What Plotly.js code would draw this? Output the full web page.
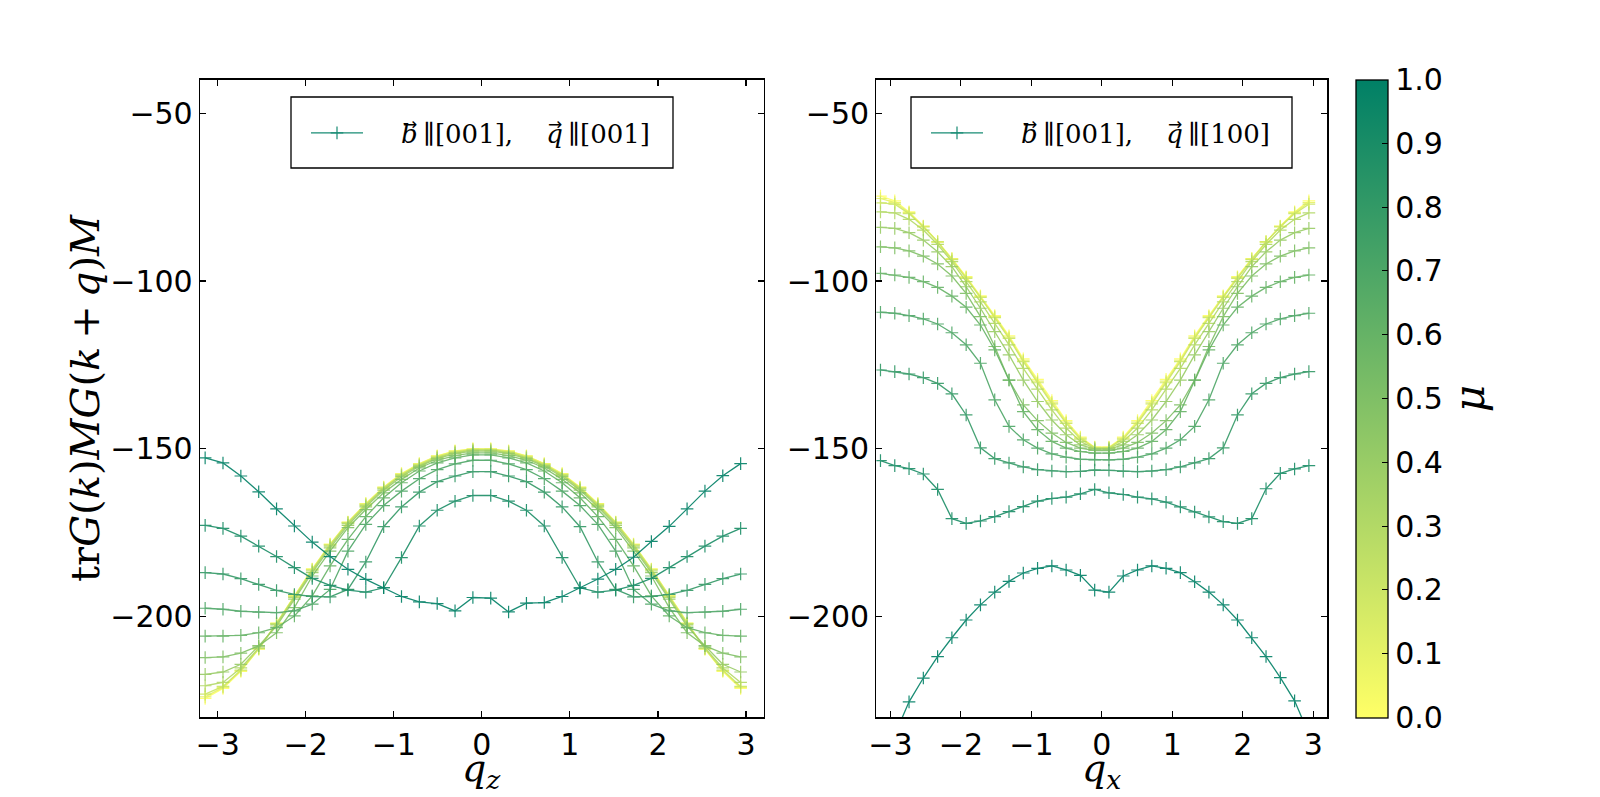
<!DOCTYPE html>
<html>
<head>
<meta charset="utf-8">
<script src="https://cdn.plot.ly/plotly-3.0.1.min.js"></script>
<style>html,body{margin:0;padding:0;background:#fff;overflow:hidden;}#chart{width:1600px;height:797px;}</style>
</head>
<body>
<div id="chart"></div>
<script>
// q grid (31 points from -pi with step 2pi/31)
const qValues = [-3.1416,-2.9389,-2.7362,-2.5335,-2.3308,-2.1281,-1.9255,-1.7228,-1.5201,-1.3174,-1.1147,-0.9120,-0.7094,-0.5067,-0.3040,-0.1013,0.1013,0.3040,0.5067,0.7094,0.9120,1.1147,1.3174,1.5201,1.7228,1.9255,2.1281,2.3308,2.5335,2.7362,2.9389];
const muValues = [0.0,0.1,0.2,0.3,0.4,0.5,0.6,0.7,0.8,0.9,1.0];

// Left panel: b || [001], q || [001]
const left_mu00 = [-224.4,-221.4,-216.3,-209.7,-201.9,-193.7,-185.8,-178.4,-171.8,-166.3,-161.4,-157.4,-154.4,-152.1,-150.6,-150.0,-150.0,-150.6,-152.1,-154.4,-157.4,-161.4,-166.3,-171.8,-178.4,-185.8,-193.7,-201.9,-209.7,-216.3,-221.4];
const left_mu01 = [-223.9,-221.1,-216.1,-209.6,-202.0,-193.8,-185.9,-178.5,-171.9,-166.4,-161.5,-157.5,-154.5,-152.2,-150.7,-150.1,-150.1,-150.7,-152.2,-154.5,-157.5,-161.5,-166.4,-171.9,-178.5,-185.9,-193.8,-202.0,-209.6,-216.1,-221.1];
const left_mu02 = [-223.1,-220.8,-215.9,-209.5,-202.1,-194.0,-186.1,-178.7,-172.0,-166.6,-161.7,-157.7,-154.7,-152.4,-150.9,-150.2,-150.2,-150.9,-152.4,-154.7,-157.7,-161.7,-166.6,-172.0,-178.7,-186.1,-194.0,-202.1,-209.5,-215.9,-220.8];
const left_mu03 = [-220.6,-219.6,-215.3,-209.3,-202.3,-194.3,-186.4,-179.0,-172.3,-166.9,-161.9,-157.9,-154.9,-152.6,-151.1,-150.4,-150.4,-151.1,-152.6,-154.9,-157.9,-161.9,-166.9,-172.3,-179.0,-186.4,-194.3,-202.3,-209.3,-215.3,-219.6];
const left_mu04 = [-217.2,-216.5,-214.2,-208.7,-202.8,-194.8,-186.9,-179.5,-172.8,-167.3,-162.3,-158.3,-155.2,-152.9,-151.4,-150.7,-150.7,-151.4,-152.9,-155.2,-158.3,-162.3,-167.3,-172.8,-179.5,-186.9,-194.8,-202.8,-208.7,-214.2,-216.5];
const left_mu05 = [-212.2,-212.0,-210.9,-208.7,-204.8,-197.3,-187.9,-180.5,-173.5,-168.1,-163.1,-159.1,-155.7,-153.4,-152.0,-151.2,-151.2,-152.0,-153.4,-155.7,-159.1,-163.1,-168.1,-173.5,-180.5,-187.9,-197.3,-204.8,-208.7,-210.9,-212.0];
const left_mu06 = [-205.8,-205.8,-205.6,-204.8,-203.3,-199.8,-193.8,-184.9,-177.0,-170.2,-164.6,-160.1,-156.6,-154.2,-152.7,-151.8,-151.8,-152.7,-154.2,-156.6,-160.1,-164.6,-170.2,-177.0,-184.9,-193.8,-199.8,-203.3,-204.8,-205.6,-205.8];
const left_mu07 = [-197.5,-197.8,-198.4,-198.7,-198.8,-198.3,-196.3,-191.9,-180.5,-172.5,-166.9,-162.6,-158.9,-156.2,-154.5,-153.4,-153.4,-154.5,-156.2,-158.9,-162.6,-166.9,-172.5,-180.5,-191.9,-196.3,-198.3,-198.8,-198.7,-198.4,-197.8];
const left_mu08 = [-186.9,-187.3,-188.7,-190.4,-192.2,-193.4,-194.0,-194.1,-191.9,-183.7,-173.2,-167.3,-162.9,-159.8,-158.1,-156.8,-156.8,-158.1,-159.8,-162.9,-167.3,-173.2,-183.7,-191.9,-194.1,-194.0,-193.4,-192.2,-190.4,-188.7,-187.3];
const left_mu09 = [-172.8,-173.7,-176.0,-179.0,-182.1,-185.4,-188.6,-190.7,-192.1,-192.7,-191.4,-182.4,-173.0,-168.3,-165.6,-163.9,-163.9,-165.6,-168.3,-173.0,-182.4,-191.4,-192.7,-192.1,-190.7,-188.6,-185.4,-182.1,-179.0,-176.0,-173.7];
const left_mu10 = [-152.7,-154.2,-158.1,-162.8,-167.9,-173.0,-177.8,-182.1,-185.9,-188.9,-191.4,-194.0,-195.6,-196.1,-198.3,-194.3,-194.5,-198.6,-196.0,-195.8,-194.0,-191.5,-188.8,-185.9,-182.3,-177.6,-173.1,-167.9,-162.6,-158.0,-154.4];

// Right panel: b || [001], q || [100]
const right_mu00 = [-74.7,-76.1,-79.4,-83.6,-88.3,-93.3,-98.7,-104.4,-110.3,-116.3,-123.2,-129.3,-135.6,-141.6,-146.5,-149.5,-149.5,-146.5,-141.6,-135.6,-129.3,-123.2,-116.3,-110.3,-104.4,-98.7,-93.3,-88.3,-83.6,-79.4,-76.1];
const right_mu01 = [-75.4,-76.6,-79.6,-83.7,-88.3,-93.4,-98.9,-104.6,-110.6,-116.7,-123.6,-129.8,-136.1,-142.0,-146.8,-149.6,-149.6,-146.8,-142.0,-136.1,-129.8,-123.6,-116.7,-110.6,-104.6,-98.9,-93.4,-88.3,-83.7,-79.6,-76.6];
const right_mu02 = [-76.7,-77.1,-79.9,-83.9,-88.3,-93.6,-99.2,-104.9,-110.9,-117.1,-124.0,-130.3,-136.6,-142.4,-147.1,-149.7,-149.7,-147.1,-142.4,-136.6,-130.3,-124.0,-117.1,-110.9,-104.9,-99.2,-93.6,-88.3,-83.9,-79.9,-77.1];
const right_mu03 = [-79.4,-79.7,-81.6,-84.8,-89.1,-94.2,-100.2,-106.2,-112.6,-119.0,-126.0,-132.2,-138.4,-143.8,-147.8,-149.9,-149.9,-147.8,-143.8,-138.4,-132.2,-126.0,-119.0,-112.6,-106.2,-100.2,-94.2,-89.1,-84.8,-81.6,-79.7];
const right_mu04 = [-84.0,-84.3,-85.6,-87.8,-91.3,-95.7,-101.7,-108.1,-115.1,-122.0,-129.5,-135.9,-141.4,-145.8,-148.8,-150.1,-150.1,-148.8,-145.8,-141.4,-135.9,-129.5,-122.0,-115.1,-108.1,-101.7,-95.7,-91.3,-87.8,-85.6,-84.3];
const right_mu05 = [-89.8,-90.1,-91.0,-92.6,-94.9,-98.5,-103.7,-110.6,-119.5,-129.5,-136.9,-141.6,-145.3,-148.1,-149.8,-150.5,-150.5,-149.8,-148.1,-145.3,-141.6,-136.9,-129.5,-119.5,-110.6,-103.7,-98.5,-94.9,-92.6,-91.0,-90.1];
const right_mu06 = [-97.7,-98.2,-98.9,-100.2,-101.9,-104.5,-107.8,-113.1,-120.5,-129.5,-138.9,-144.3,-147.8,-149.8,-150.8,-151.3,-151.3,-150.8,-149.8,-147.8,-144.3,-138.9,-129.5,-120.5,-113.1,-107.8,-104.5,-101.9,-100.2,-98.9,-98.2];
const right_mu07 = [-109.3,-109.6,-110.3,-111.3,-112.8,-115.4,-119.0,-124.5,-135.4,-143.3,-147.3,-149.8,-151.5,-152.5,-153.1,-153.3,-153.3,-153.1,-152.5,-151.5,-149.8,-147.3,-143.3,-135.4,-124.5,-119.0,-115.4,-112.8,-111.3,-110.3,-109.6];
const right_mu08 = [-126.5,-127.0,-127.7,-128.8,-130.5,-133.6,-139.9,-149.7,-152.9,-154.2,-155.4,-156.2,-156.6,-156.8,-156.7,-156.3,-156.4,-156.7,-156.8,-156.6,-156.2,-155.4,-154.2,-152.9,-149.7,-139.9,-133.6,-130.5,-128.8,-127.7,-127.0];
const right_mu09 = [-153.5,-155.0,-155.9,-157.5,-162.1,-170.8,-172.2,-171.5,-170.2,-168.7,-167.2,-165.6,-164.8,-164.4,-163.4,-162.1,-163.1,-163.6,-164.4,-164.9,-165.9,-167.3,-168.8,-170.3,-171.7,-172.2,-170.8,-161.9,-157.3,-156.0,-155.0];
const right_mu10 = [-245.0,-235.0,-225.4,-218.3,-211.9,-206.3,-201.0,-196.5,-192.7,-189.5,-187.0,-185.6,-184.9,-186.1,-187.7,-192.1,-192.7,-187.9,-186.1,-184.9,-185.6,-186.9,-189.6,-192.7,-196.5,-201.0,-206.3,-211.9,-218.2,-225.1,-235.0];

const leftSeries = [left_mu00,left_mu01,left_mu02,left_mu03,left_mu04,left_mu05,left_mu06,left_mu07,left_mu08,left_mu09,left_mu10];
const rightSeries = [right_mu00,right_mu01,right_mu02,right_mu03,right_mu04,right_mu05,right_mu06,right_mu07,right_mu08,right_mu09,right_mu10];

const NB = '\u00A0';
const legendLeft = NB+NB+NB+NB+'<i>b</i>\u2009\u2225[001],'+NB+NB+NB+NB+'<i>q</i>\u2009\u2225[001]';
const legendRight = NB+NB+NB+NB+'<i>b</i>\u2009\u2225[001],'+NB+NB+NB+NB+'<i>q</i>\u2009\u2225[100]';

// summer_r colormap
const lowColor = [255,255,102], highColor = [0,128,102];
function muColor(m){
  const c = lowColor.map((v,i)=>Math.round(v + (highColor[i]-v)*m));
  return 'rgb(' + c.join(',') + ')';
}
const colorscale = [[0,'rgb(255,255,102)'],[1,'rgb(0,128,102)']];

const traces = [];
function addPanel(series, xa, ya, legendName, legendText){
  series.forEach((ys, i) => {
    const col = muColor(muValues[i]);
    const last = (i === series.length - 1);
    traces.push({
      type:'scatter', mode:'lines+markers', x:qValues, y:ys, xaxis:xa, yaxis:ya,
      line:{color:col, width:1.3},
      marker:{symbol:'cross-thin', size:9, color:col, line:{color:col, width:1.2}},
      opacity:0.9,
      name: last ? legendText : ('\u03bc = ' + muValues[i].toFixed(1)),
      showlegend: last, legend: legendName, hoverinfo:'x+y+name'
    });
  });
}
addPanel(leftSeries, 'x', 'y', 'legend', legendLeft);
addPanel(rightSeries, 'x2', 'y2', 'legend2', legendRight);

// colorbar carrier
traces.push({
  type:'scatter', mode:'markers', x:[null], y:[null], xaxis:'x2', yaxis:'y2', showlegend:false, hoverinfo:'skip',
  marker:{color:[0], cmin:0, cmax:1, colorscale:colorscale, showscale:true,
    colorbar:{x:0.8472, xanchor:'left', xpad:0, y:0.5, yanchor:'middle', ypad:0, len:0.8, lenmode:'fraction',
      thickness:32, thicknessmode:'pixels', outlinecolor:'#000', outlinewidth:1.3,
      tickvals:muValues, ticktext:muValues.map(v=>v.toFixed(1)), ticks:'inside', ticklen:6, tickcolor:'#000',
      tickfont:{family:'DejaVu Sans', size:30, color:'#000'},
      title:{text:'<i>\u03bc</i>', side:'right', font:{family:'DejaVu Serif', size:42, color:'#000'}}}}
});

const tickFont = {family:'DejaVu Sans', size:30, color:'#000'};
const titleFont = {family:'DejaVu Serif', size:40, color:'#000'};
function axisBase(){
  return {showline:true, linecolor:'#000', linewidth:1.3, mirror:'allticks', ticks:'inside', ticklen:6, tickwidth:1.1,
    tickcolor:'#000', showgrid:false, zeroline:false, tickfont:tickFont};
}
const xTicks = [-3,-2,-1,0,1,2,3];
const yTicks = [-200,-150,-100,-50];

function boxShape(x0,x1,y0,y1){
  return {type:'rect', xref:'paper', yref:'paper', x0:x0/1600, x1:x1/1600, y0:1-y1/797, y1:1-y0/797,
    line:{color:'#000', width:1.3}, fillcolor:'rgba(0,0,0,0)', layer:'above'};
}

const legendFont = {family:'DejaVu Serif', size:26, color:'#000'};
const qFont = {family:'DejaVu Serif', size:38, color:'#000'};
const legendX = [306, 926];
const layout = {
  width:1600, height:797, margin:{l:0,r:0,t:0,b:0}, paper_bgcolor:'#fff', plot_bgcolor:'#fff',
  xaxis:Object.assign(axisBase(), {domain:[0.125,0.47727], range:[-3.2,3.2], tickvals:xTicks, anchor:'y'}),
  yaxis:Object.assign(axisBase(), {domain:[0.1,0.9], range:[-230,-40], tickvals:yTicks, anchor:'x',
    title:{text:'tr<i>G</i>(<i>k</i>)<i>MG</i>(<i>k</i>\u2009+\u2009<i>q</i>)<i>M</i>', font:titleFont}}),
  xaxis2:Object.assign(axisBase(), {domain:[0.54773,0.82955], range:[-3.2,3.2], tickvals:xTicks, anchor:'y2'}),
  yaxis2:Object.assign(axisBase(), {domain:[0.1,0.9], range:[-230,-40], tickvals:yTicks, anchor:'x2'}),
  shapes:[boxShape(291,673,97,168), boxShape(911,1292,97,168)],
  annotations:[
    {xref:'x domain', yref:'paper', x:0.5, y:0, xanchor:'center', yanchor:'bottom', showarrow:false,
      text:'<i>q</i><sub><i>z</i></sub>', font:qFont},
    {xref:'x2 domain', yref:'paper', x:0.5, y:0, xanchor:'center', yanchor:'bottom', showarrow:false,
      text:'<i>q</i><sub><i>x</i></sub>', font:qFont}
  ],
  legend:{x:legendX[0]/1600, y:1-133/797, xanchor:'left', yanchor:'middle', bgcolor:'rgba(0,0,0,0)', borderwidth:0,
    font:legendFont, itemwidth:52},
  legend2:{x:legendX[1]/1600, y:1-133/797, xanchor:'left', yanchor:'middle', bgcolor:'rgba(0,0,0,0)', borderwidth:0,
    font:legendFont, itemwidth:52},
  showlegend:true
};

// vector arrows over b and q in the legend texts, placed from the rendered glyph positions
function addVectorArrows(gd){
  const svg = gd.querySelector('.main-svg');
  const t = gd.querySelector('.legendtext');
  if(!svg || !t) return;
  const s = t.textContent;
  const ctm = t.getScreenCTM();
  const svgRect = svg.getBoundingClientRect();
  const pts = [];
  ['b','q'].forEach(ch => {
    const idx = s.indexOf(ch);
    if(idx < 0) return;
    let ext;
    try { ext = t.getExtentOfChar(idx); } catch(e) { return; }
    const p = svg.createSVGPoint();
    p.x = ext.x + ext.width*0.55; p.y = ext.y + ext.height*0.18;
    const sp = p.matrixTransform(ctm);
    pts.push([sp.x - svgRect.left, sp.y - svgRect.top]);
  });
  const arrows = [];
  legendX.forEach(lx => {
    pts.forEach(([px,py]) => {
      const x = px + (lx - legendX[0]);
      arrows.push({xref:'paper', yref:'paper', x:x/1600, y:1-py/797, xanchor:'center', yanchor:'middle',
        showarrow:false, text:'\u2192', font:{family:'DejaVu Sans', size:17, color:'#000'}});
    });
  });
  if(arrows.length) Plotly.relayout(gd, {annotations: layout.annotations.concat(arrows)});
}

Plotly.newPlot('chart', traces, layout, {displayModeBar:false, staticPlot:true}).then(gd => addVectorArrows(gd));
</script>
</body>
</html>
